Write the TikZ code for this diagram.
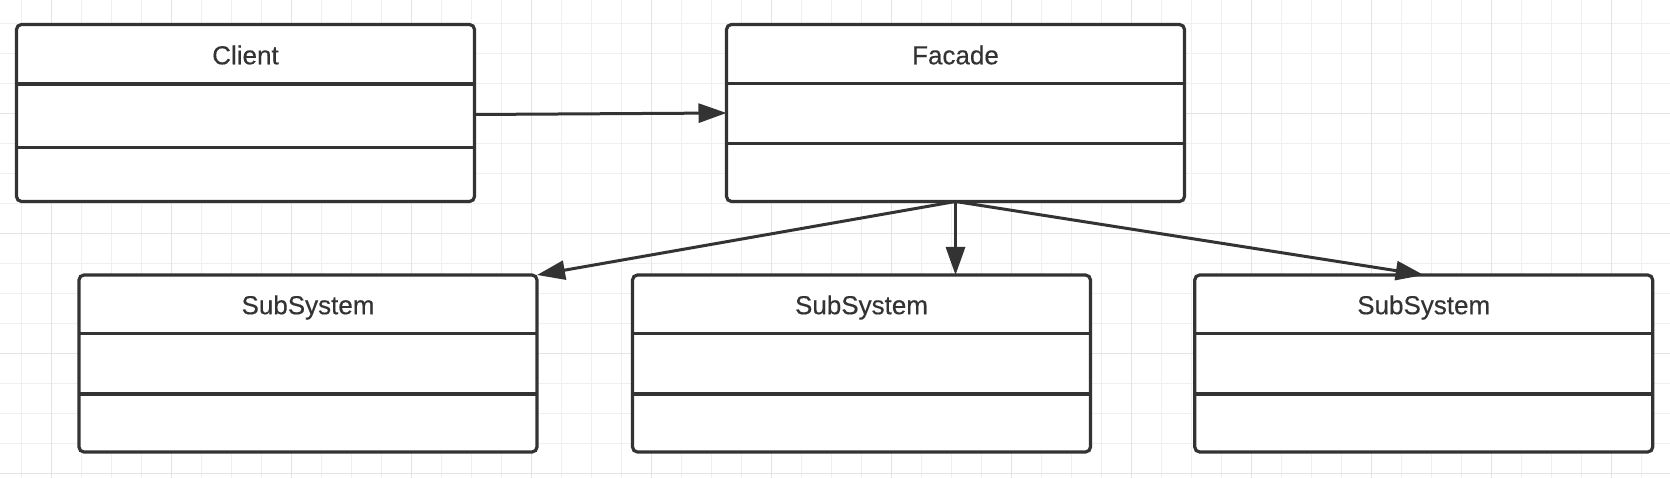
\documentclass[tikz,border=0pt]{standalone}
\usepackage{fontspec}
\setmainfont{Liberation Sans}
\newfontfamily\titlefont{Liberation Sans}[FakeBold=0.4]
\usetikzlibrary{arrows.meta}
\definecolor{ink}{HTML}{333333}
\definecolor{gridminor}{HTML}{F0F0F0}
\definecolor{gridmajor}{HTML}{E4E4E4}
\begin{document}
\begin{tikzpicture}[x=1pt,y=-1pt,
  umlbox/.style={draw=ink, line width=3.2pt, rounded corners=5pt, fill=white,
    minimum width=458pt, minimum height=177pt, inner sep=0pt, outer sep=0pt},
  title/.style={font=\titlefont\fontsize{26}{30}\selectfont, text=ink, anchor=base, inner sep=0pt},
  divider/.style={draw=ink, line width=3.2pt},
  link/.style={draw=ink, line width=3pt, -{Triangle[length=28pt,width=19pt]}},
  minorline/.style={draw=gridminor, line width=1.2pt},
  majorline/.style={draw=gridmajor, line width=1.2pt},
]
\useasboundingbox (0,0) rectangle (1670,478);
\fill[white] (0,0) rectangle (1670,478);
% grid
\foreach \i in {0,...,54} \draw[minorline] (21.7+30*\i,0) -- (21.7+30*\i,478);
\foreach \j in {0,...,15} \draw[minorline] (0,23.3+30*\j) -- (1670,23.3+30*\j);
\foreach \i in {0,...,13} \draw[majorline] (51.7+120*\i,0) -- (51.7+120*\i,478);
\foreach \j in {0,...,3} \draw[majorline] (0,113.3+120*\j) -- (1670,113.3+120*\j);
% boxes
\node[umlbox] (client) at (245.5,113) {};
\node[umlbox] (facade) at (955.5,113) {};
\node[umlbox] (sub1) at (308,363.5) {};
\node[umlbox] (sub2) at (861.5,363.5) {};
\node[umlbox] (sub3) at (1423.7,363.5) {};
% titles
\node[title] (clientT) at ([yshift=-39.8pt]client.north) {Client};
\node[title] (facadeT) at ([yshift=-39.8pt]facade.north) {Facade};
\node[title] (sub1T) at ([yshift=-39.2pt]sub1.north) {SubSystem};
\node[title] (sub2T) at ([yshift=-39.2pt]sub2.north) {SubSystem};
\node[title] (sub3T) at ([yshift=-39.2pt]sub3.north) {SubSystem};
% dividers
\draw[divider] ([yshift=-59.5pt]client.north west) -- ([yshift=-59.5pt]client.north east);
\draw[divider] ([yshift=-123.3pt]client.north west) -- ([yshift=-123.3pt]client.north east);
\draw[divider] ([yshift=-59pt]facade.north west) -- ([yshift=-59pt]facade.north east);
\draw[divider] ([yshift=-119.3pt]facade.north west) -- ([yshift=-119.3pt]facade.north east);
\foreach \s in {sub1,sub2,sub3}{
  \draw[divider] ([yshift=-58.5pt]\s.north west) -- ([yshift=-58.5pt]\s.north east);
  \draw[divider] ([yshift=-119pt]\s.north west) -- ([yshift=-119pt]\s.north east);
}
% connectors
\draw[link] ([yshift=-1.5pt]client.east) -- (facade.west);
\draw[link] (facade.south) -- (sub1.north east);
\draw[link] (facade.south) -- (facade.south |- sub2.north);
\draw[link] (facade.south) -- (sub3.north);
\end{tikzpicture}
\end{document}
